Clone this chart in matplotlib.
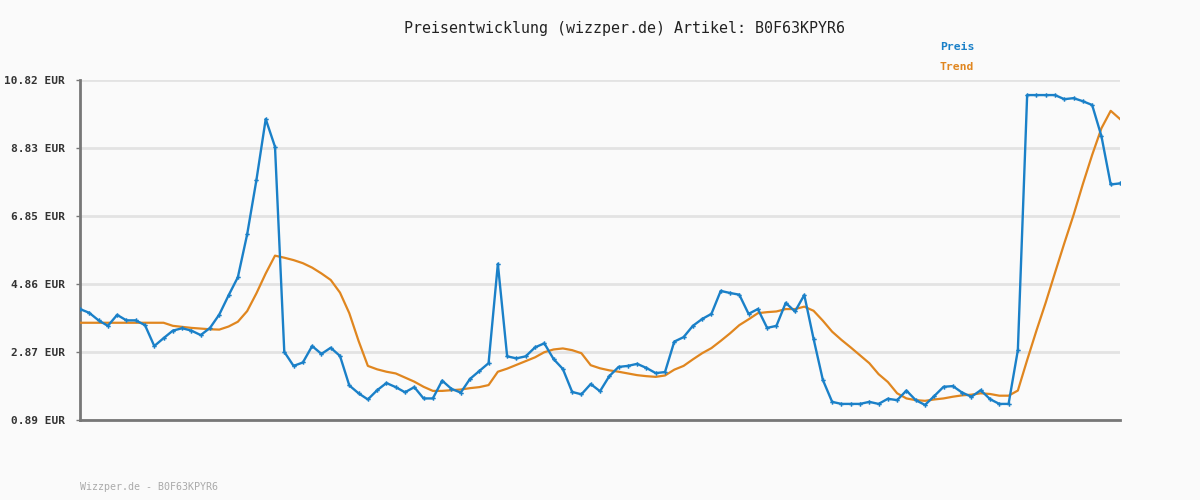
import matplotlib
matplotlib.use("Agg")
import matplotlib.pyplot as plt

# price history (one point per sample)
preis = [4.13, 4.02, 3.80, 3.64, 3.96, 3.80, 3.80, 3.66, 3.05, 3.28,
         3.50, 3.57, 3.50, 3.37, 3.58, 3.97, 4.53, 5.06, 6.31, 7.90,
         9.68, 8.87, 2.88, 2.47, 2.57, 3.05, 2.82, 3.00, 2.76, 1.90,
         1.67, 1.49, 1.76, 1.97, 1.85, 1.70, 1.85, 1.52, 1.52, 2.04,
         1.80, 1.69, 2.09, 2.32, 2.55, 5.45, 2.75, 2.69, 2.75, 3.01,
         3.13, 2.67, 2.38, 1.71, 1.64, 1.94, 1.73, 2.17, 2.44, 2.47,
         2.53, 2.41, 2.26, 2.29, 3.18, 3.31, 3.64, 3.84, 3.99, 4.66,
         4.60, 4.55, 3.99, 4.13, 3.58, 3.64, 4.31, 4.06, 4.54, 3.26,
         2.06, 1.42, 1.36, 1.36, 1.36, 1.42, 1.36, 1.51, 1.47, 1.75,
         1.47, 1.33, 1.59, 1.86, 1.88, 1.69, 1.57, 1.76, 1.50, 1.36,
         1.36, 2.93, 10.38, 10.38, 10.38, 10.38, 10.26, 10.29, 10.20, 10.09,
         9.18, 7.77, 7.80]

trend = [3.73, 3.73, 3.73, 3.73, 3.73, 3.73, 3.73, 3.73, 3.73, 3.73,
         3.64, 3.61, 3.58, 3.56, 3.54, 3.53, 3.62, 3.76, 4.07, 4.59,
         5.17, 5.69, 5.63, 5.56, 5.47, 5.34, 5.17, 4.98, 4.61, 4.01,
         3.20, 2.47, 2.37, 2.30, 2.25, 2.13, 2.01, 1.86, 1.74, 1.74,
         1.76, 1.78, 1.82, 1.85, 1.91, 2.30, 2.39, 2.50, 2.61, 2.72,
         2.87, 2.95, 2.98, 2.93, 2.84, 2.49, 2.40, 2.34, 2.30, 2.25,
         2.20, 2.17, 2.15, 2.19, 2.36, 2.47, 2.66, 2.84, 2.99, 3.20,
         3.42, 3.66, 3.83, 4.01, 4.04, 4.06, 4.13, 4.13, 4.20, 4.08,
         3.79, 3.47, 3.23, 3.01, 2.78, 2.55, 2.23, 2.00, 1.67, 1.52,
         1.47, 1.45, 1.49, 1.52, 1.57, 1.61, 1.63, 1.67, 1.65, 1.60,
         1.60, 1.75, 2.64, 3.50, 4.32, 5.19, 6.05, 6.88, 7.78, 8.63,
         9.41, 9.92, 9.68]

yticks = [0.89, 2.87, 4.86, 6.85, 8.83, 10.82]
ylabels = ["%.2f EUR" % v for v in yticks]

bg = "#fafafa"
blue = "#1a80c8"
orange = "#e0861f"
mono = ["DejaVu Sans Mono"]

fig = plt.figure(figsize=(12, 5), dpi=100, facecolor=bg)
ax = fig.add_axes([80 / 1200, 80 / 500, 1040 / 1200, 340 / 500])
ax.set_facecolor(bg)

x = list(range(len(preis)))
ax.plot(x, trend, color=orange, lw=1.6, zorder=3)
ax.plot(x, preis, color=blue, lw=1.7, marker="P", ms=3.2, mew=0, zorder=4)

ax.set_xlim(0, len(preis) - 1)
ax.set_ylim(yticks[0], yticks[-1])
ax.set_yticks(yticks)
ax.set_yticklabels(ylabels, fontfamily=mono, fontsize=8.0,
                   fontweight="bold", color="#333333")
ax.set_xticks([])
ax.tick_params(axis="y", length=3, width=1, color="#777777", pad=8)
ax.grid(axis="y", color="#e3e3e3", lw=2, zorder=0)

for s in ["top", "right"]:
    ax.spines[s].set_visible(False)
for s in ["left", "bottom"]:
    ax.spines[s].set_color("#777777")
    ax.spines[s].set_linewidth(2)

fig.text(624 / 1200, 1 - 28 / 500,
         "Preisentwicklung (wizzper.de) Artikel: B0F63KPYR6",
         ha="center", va="center", fontfamily=mono, fontsize=10.8,
         color="#222222")
fig.text(940 / 1200, 1 - 47 / 500, "Preis", ha="left", va="center",
         fontfamily=mono, fontsize=8.2, fontweight="bold", color=blue)
fig.text(940 / 1200, 1 - 67 / 500, "Trend", ha="left", va="center",
         fontfamily=mono, fontsize=8.2, fontweight="bold", color=orange)
fig.text(80 / 1200, 1 - 487 / 500, "Wizzper.de - B0F63KPYR6",
         ha="left", va="center", fontfamily=mono, fontsize=7.2,
         color="#aaaaaa")

fig.savefig("out.png", dpi=100, facecolor=bg)
